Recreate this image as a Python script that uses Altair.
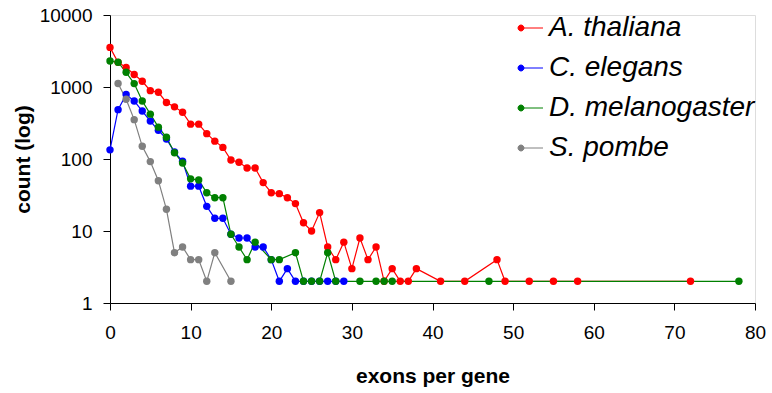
import altair as alt
import pandas as pd

series_names = ["A. thaliana", "C. elegans", "D. melanogaster", "S. pombe"]
series_colors = ["#FF0000", "#0000FF", "#008000", "#808080"]

ath_x = list(range(0, 39)) + [41, 44, 48, 49, 52, 55, 58, 72]
ath_y = [3550, 2200, 1870, 1490, 1200, 890, 845, 610, 530, 445,
         305, 305, 225, 177, 145, 97, 90, 75, 75, 47,
         34, 33, 29, 24, 13, 10, 18, 6, 4, 7,
         3, 8, 4, 6, 2, 3, 2, 2, 3,
         2, 2, 4, 2, 2, 2, 2, 2]

cel_x = list(range(0, 30))
cel_y = [134, 485, 785, 640, 464, 336, 250, 190, 125, 93,
         42, 42, 22, 15, 15, 9, 8, 8, 6, 6,
         4, 2, 3, 2, 2, 2, 2, 2, 2, 2]

dme_x = list(range(0, 19)) + [20, 21, 23, 24, 25, 26, 27, 28, 31, 33, 34, 35, 47, 78]
dme_y = [2300, 2210, 1600, 1115, 640, 420, 277, 200, 122, 88,
         53, 51, 34, 29, 29, 9, 6, 4, 7,
         4, 4, 5, 2, 2, 2, 5, 2, 2, 2, 2, 2, 2, 2]

spo_x = list(range(1, 14)) + [15]
spo_y = [1120, 675, 352, 150, 92, 50, 20, 5, 6, 4, 4, 2, 5, 2]

x_ticks = [0, 10, 20, 30, 40, 50, 60, 70, 80]
y_ticks = [1, 10, 100, 1000, 10000]

rows = []
for name, xs, ys in zip(series_names, [ath_x, cel_x, dme_x, spo_x], [ath_y, cel_y, dme_y, spo_y]):
    for x, y in zip(xs, ys):
        rows.append({"series": name, "exons": x, "count": y})
df = pd.DataFrame(rows)

FONT = "Liberation Sans"
legend_path = "M-1,0L1,0M-1.27,0A0.27,0.27,0,1,0,-0.73,0A0.27,0.27,0,1,0,-1.27,0Z"

color = alt.Color(
    "series:N",
    sort=series_names,
    scale=alt.Scale(domain=series_names, range=series_colors),
    legend=alt.Legend(
        title=None, orient="none", legendX=408, legendY=-1, padding=0,
        symbolType=legend_path, symbolSize=484, symbolStrokeWidth=1,
        labelFont=FONT, labelFontSize=28, labelFontStyle="italic",
        labelColor="black", labelOffset=3, rowPadding=12, labelLimit=400,
    ),
)

x = alt.X(
    "exons:Q",
    scale=alt.Scale(domain=[0, 80], nice=False, zero=False),
    axis=alt.Axis(
        values=x_ticks, title="exons per gene", grid=False, tickSize=7,
        labelFont=FONT, labelFontSize=19, labelColor="black", labelPadding=13,
        labelFlush=False, labelOverlap=False,
        titleFont=FONT, titleFontSize=21, titleFontWeight="bold", titleColor="black",
        titlePadding=23, domainColor="black", tickColor="black",
    ),
)
y = alt.Y(
    "count:Q",
    scale=alt.Scale(type="log", domain=[1, 10000], nice=False),
    axis=alt.Axis(
        values=y_ticks, format="d", title="count (log)", grid=False, tickSize=7,
        labelFont=FONT, labelFontSize=19, labelColor="black", labelPadding=11,
        labelFlush=False, labelOverlap=False,
        titleFont=FONT, titleFontSize=21, titleFontWeight="bold", titleColor="black",
        titlePadding=6, domainColor="black", tickColor="black",
    ),
)

chart = alt.Chart(df).mark_line(
    strokeWidth=1.2,
    point=alt.OverlayMarkDef(filled=True, size=55, opacity=1),
).encode(x=x, y=y, color=color).properties(
    width=645, height=288,
    autosize=alt.AutoSizeParams(type="none"),
    padding={"left": 110, "top": 15, "right": 17, "bottom": 90},
).configure_view(stroke=None).configure(background="white")

chart.save("out.html", embed_options={"renderer": "svg", "actions": False})
